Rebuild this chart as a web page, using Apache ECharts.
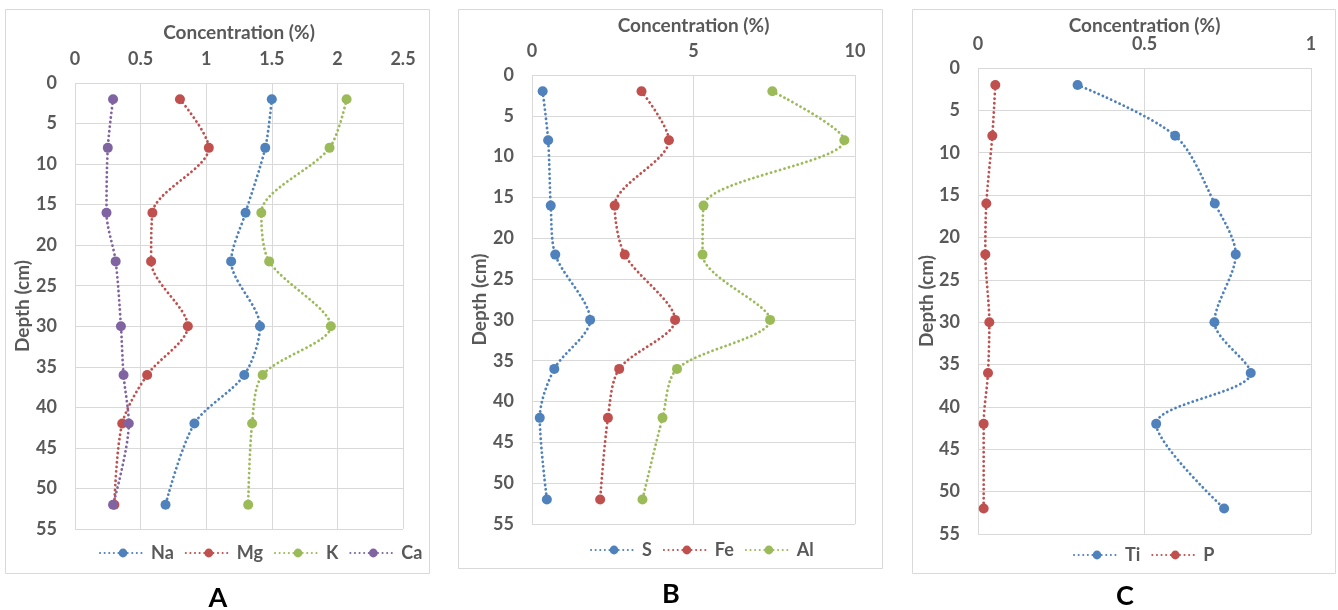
<!DOCTYPE html>
<html><head><meta charset="utf-8">
<script src="https://cdn.jsdelivr.net/npm/echarts@6/dist/echarts.min.js"></script>
<style>html,body{margin:0;padding:0;background:#fff}#c{width:1338px;height:610px}</style>
</head><body><div id="c"></div>
<script>
const depth = [2, 8, 16, 22, 30, 36, 42, 52];
const naVals = [1.50, 1.45, 1.30, 1.19, 1.41, 1.29, 0.91, 0.69];
const mgVals = [0.80, 1.02, 0.59, 0.58, 0.86, 0.55, 0.36, 0.30];
const kVals  = [2.07, 1.94, 1.42, 1.48, 1.95, 1.43, 1.35, 1.32];
const caVals = [0.29, 0.25, 0.24, 0.31, 0.35, 0.37, 0.41, 0.29];
const sVals  = [0.33, 0.50, 0.58, 0.72, 1.80, 0.69, 0.24, 0.46];
const feVals = [3.39, 4.24, 2.56, 2.87, 4.43, 2.70, 2.35, 2.11];
const alVals = [7.44, 9.67, 5.31, 5.28, 7.37, 4.49, 4.04, 3.42];
const tiVals = [0.299, 0.592, 0.711, 0.774, 0.710, 0.819, 0.535, 0.739];
const pVals  = [0.052, 0.043, 0.025, 0.022, 0.034, 0.030, 0.017, 0.017];
const xTicksA = {min: 0, max: 2.5, interval: 0.5};
const xTicksB = {min: 0, max: 10, interval: 5};
const xTicksC = {min: 0, max: 1, interval: 0.5};
const depthAxis = {min: 0, max: 55, interval: 5};
const panelLabels = ['A', 'B', 'C'];

const BLUE = '#4F81BD', RED = '#C0504D', GREEN = '#9BBB59', PURPLE = '#8064A2';
const FONT = 'Lato';
const TXT = '#595959';
const GRIDC = '#d9d9d9';

const grids = [
  {left: 75, top: 83, width: 328, height: 446},
  {left: 532, top: 75, width: 323, height: 449},
  {left: 978, top: 68, width: 333, height: 466}
];
const xNameGap = [41, 40, 33];
const yNameGap = [43, 43, 42];

function xAxis(i, t) {
  return {
    gridIndex: i, type: 'value', position: 'top', min: t.min, max: t.max, interval: t.interval,
    name: 'Concentration (%)', nameLocation: 'middle', nameGap: xNameGap[i], nameMoveOverlap: false,
    nameTextStyle: {fontFamily: FONT, fontWeight: 'bold', fontSize: 19, color: TXT},
    axisLine: {show: false}, axisTick: {show: false},
    axisLabel: {fontFamily: FONT, fontWeight: 'bold', fontSize: 18, color: TXT, margin: 15},
    splitLine: {show: true, lineStyle: {color: GRIDC, width: 1}}
  };
}
function yAxis(i) {
  return {
    gridIndex: i, type: 'value', inverse: true, min: depthAxis.min, max: depthAxis.max, interval: depthAxis.interval,
    name: 'Depth (cm)', nameLocation: 'middle', nameGap: yNameGap[i], nameRotate: 90, nameMoveOverlap: false,
    nameTextStyle: {fontFamily: FONT, fontWeight: 'bold', fontSize: 19, color: TXT},
    axisLine: {show: false}, axisTick: {show: false},
    axisLabel: {fontFamily: FONT, fontWeight: 'bold', fontSize: 18, color: TXT, margin: 18},
    splitLine: {show: true, lineStyle: {color: GRIDC, width: 1}}
  };
}
function ser(name, vals, color, gi) {
  return {
    name, type: 'line', xAxisIndex: gi, yAxisIndex: gi, smooth: 0.3,
    data: depth.map((d, k) => [vals[k], d]),
    symbol: 'circle', symbolSize: 10, showAllSymbol: true,
    itemStyle: {color},
    lineStyle: {color, width: 2.8, type: [0.1, 4.5], cap: 'round'},
    emphasis: {disabled: true}, animation: false
  };
}
function legend(names, left, top) {
  return {
    data: names, left, top, itemWidth: 46, itemHeight: 11, itemGap: 11, padding: 0,
    textStyle: {fontFamily: FONT, fontWeight: 'bold', fontSize: 18, color: TXT},
    selectedMode: false
  };
}

const option = {
  animation: false,
  grid: grids,
  xAxis: [xAxis(0, xTicksA), xAxis(1, xTicksB), xAxis(2, xTicksC)],
  yAxis: [yAxis(0), yAxis(1), yAxis(2)],
  legend: [
    legend(['Na', 'Mg', 'K', 'Ca'], 99, 544),
    legend(['S', 'Fe', 'Al'], 590, 541),
    legend(['Ti', 'P'], 1073, 546)
  ],
  series: [
    ser('Na', naVals, BLUE, 0), ser('Mg', mgVals, RED, 0), ser('K', kVals, GREEN, 0), ser('Ca', caVals, PURPLE, 0),
    ser('S', sVals, BLUE, 1), ser('Fe', feVals, RED, 1), ser('Al', alVals, GREEN, 1),
    ser('Ti', tiVals, BLUE, 2), ser('P', pVals, RED, 2)
  ],
  graphic: [
    {type: 'rect', shape: {x: 5.5, y: 9.5, width: 424, height: 564}, style: {fill: 'none', stroke: GRIDC, lineWidth: 1}, z: -1},
    {type: 'rect', shape: {x: 458.5, y: 9.5, width: 424, height: 559}, style: {fill: 'none', stroke: GRIDC, lineWidth: 1}, z: -1},
    {type: 'rect', shape: {x: 912.5, y: 9.5, width: 423, height: 564}, style: {fill: 'none', stroke: GRIDC, lineWidth: 1}, z: -1},
    {type: 'text', x: 218, y: 598, style: {text: panelLabels[0], font: 'bold 27px Lato', fill: '#000', align: 'center', verticalAlign: 'middle'}},
    {type: 'text', x: 671, y: 594, style: {text: panelLabels[1], font: 'bold 27px Lato', fill: '#000', align: 'center', verticalAlign: 'middle'}},
    {type: 'text', x: 1125, y: 596, style: {text: panelLabels[2], font: 'bold 27px Lato', fill: '#000', align: 'center', verticalAlign: 'middle'}}
  ]
};
const chart = echarts.init(document.getElementById('c'), null, {renderer: 'canvas'});
chart.setOption(option);
</script></body></html>
